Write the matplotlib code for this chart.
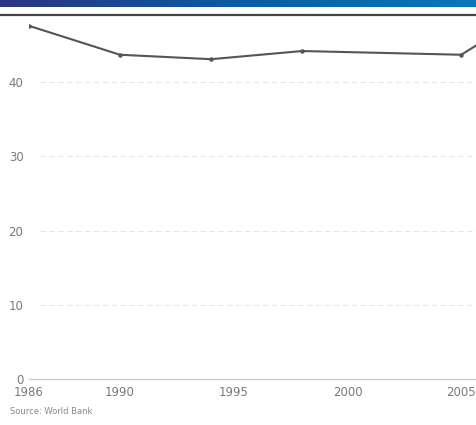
import numpy as np
import matplotlib
matplotlib.use("Agg")
import matplotlib.pyplot as plt
from matplotlib.colors import LinearSegmentedColormap

# values
years = [1986, 1990, 1994, 1998, 2005, 2006]
values = [47.6, 43.7, 43.1, 44.2, 43.7, 45.6]
xticks = [1986, 1990, 1995, 2000, 2005]
yticks = [0, 10, 20, 30, 40]
source = "Source: World Bank"

W, H = 477, 425
fig = plt.figure(figsize=(W / 100, H / 100), dpi=100)

# blue gradient banner across the top (title itself is cropped off)
bar = fig.add_axes([0, 1 - 7 / H, 1, 7 / H])
grad = np.linspace(0, 1, 256).reshape(1, -1)
cmap = LinearSegmentedColormap.from_list("ban", ["#2b3482", "#0b5ca3", "#0a78b9"])
bar.imshow(grad, aspect="auto", cmap=cmap, extent=[0, 1, 0, 1])
bar.axis("off")

# dark rule under the banner
fig.add_artist(plt.Line2D([0, 1], [1 - 15 / H, 1 - 15 / H], color="#444444", lw=1.6,
                          transform=fig.transFigure))

ax = fig.add_axes([29 / W, 1 - 379 / H, 448 / W, (379 - 20) / H])
ax.set_ylim(0, (379 - 20) / 7.42)
ax.set_xlim(1986, 1986 + 448 / 22.75)

for y in yticks[1:]:
    ax.hlines(y, 1986.5, ax.get_xlim()[1], colors="#e6e6e6", lw=0.8, linestyles=(0, (5, 3)))
ax.axhline(0, color="#cccccc", lw=1.0, clip_on=False)

ax.plot(years, values, color="#555555", lw=1.5, marker="o", ms=2.2)

for s in ax.spines.values():
    s.set_visible(False)
ax.set_xticks(xticks)
ax.set_xticklabels([str(t) for t in xticks])
ax.set_yticks(yticks)
ax.set_yticklabels([str(t) for t in yticks])
ax.tick_params(length=0, labelsize=8.5, labelcolor="#7a7a7a")
ax.tick_params(axis="x", pad=5)
ax.tick_params(axis="y", pad=4)

fig.text(10 / W, 1 - 411 / H, source, fontsize=6, color="#8a8a8a", va="center", ha="left")

fig.savefig("out.png", dpi=100)
